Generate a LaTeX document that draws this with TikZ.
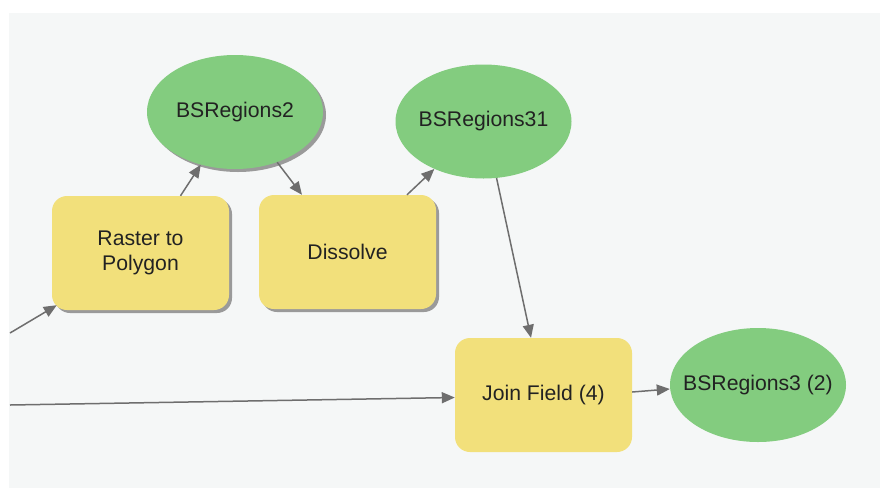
\documentclass[tikz,border=0pt]{standalone}
\usepackage{fontspec}
\setmainfont{Liberation Sans}
\usetikzlibrary{shapes.geometric,shadows,arrows.meta}
\definecolor{panel}{HTML}{F5F7F7}
\definecolor{datagreen}{HTML}{83CC7F}
\definecolor{toolyellow}{HTML}{F2E07B}
\definecolor{linkgray}{HTML}{6E6E6E}
\definecolor{shadowgray}{HTML}{9A9A9A}
\definecolor{labeltext}{HTML}{222222}
\tikzset{
  labelfont/.style={text=labeltext, font=\fontsize{21.2pt}{25pt}\selectfont},
  % the ellipse keeps its size; its name is carried in a centred label
  dataset/.style={ellipse, fill=datagreen, draw=none, inner sep=0pt,
    minimum width=176pt, minimum height=114pt,
    label={[labelfont, inner sep=0pt]center:#1}},
  tool/.style={rectangle, rounded corners=15pt, fill=toolyellow, draw=none,
    minimum width=177pt, minimum height=114pt, align=center, labelfont},
  shade/.style={drop shadow={shadow xshift=3pt, shadow yshift=-3pt,
    fill=shadowgray, opacity=1}},
  link/.style={draw=linkgray, line width=1.5pt,
    -{Triangle[length=13pt,width=11pt]}},
}
\begin{document}
\begin{tikzpicture}[x=1pt,y=-1pt]
  % canvas and backdrop
  \fill[white] (0,0) rectangle (880,488);
  \fill[panel] (9,13) rectangle (880,488);
  \useasboundingbox (0,0) rectangle (880,488);

  % processes
  \node[tool, shade] (raster) at (140.5,253) {Raster to\\Polygon};
  \node[tool, shade] (dissolve) at (347.5,252) {Dissolve};
  \node[tool] (join) at (543.5,395) {Join Field (4)};

  % data
  \node[dataset=BSRegions2, shade] (bs2) at (235,112) {};
  \node[dataset=BSRegions31] (bs31) at (483.5,121.5) {};
  \node[dataset=BSRegions3 (2)] (bs3) at (758,385) {};

  % incoming inputs
  \coordinate (inA) at (10,333);
  \coordinate (inB) at (10,405);

  % connectors
  \draw[link] (inA) -- ([shift={(5pt,5pt)}]raster.south west);
  \draw[link] (inB) -- ([yshift=-2.5pt]join.west);
  \draw[link] ([xshift=40pt]raster.north) -- (bs2.237);
  \draw[link] (bs2.310) -- ([xshift=-45.5pt]dissolve.north);
  \draw[link] ([xshift=59.5pt]dissolve.north) -- (bs31.224);
  \draw[link] (bs31.283) -- ([xshift=-12.5pt]join.north);
  \draw[link] ([yshift=3pt]join.east) -- ([yshift=-4pt]bs3.west);
\end{tikzpicture}
\end{document}
